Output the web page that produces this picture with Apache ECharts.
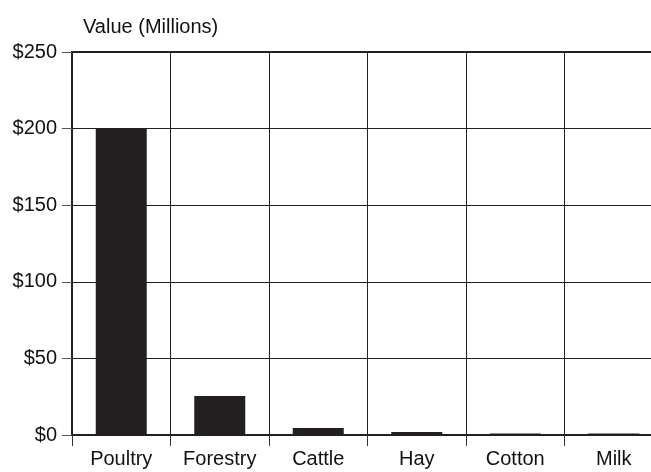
<!DOCTYPE html>
<html>
<head>
<meta charset="utf-8">
<script src="https://cdn.jsdelivr.net/npm/echarts@6/dist/echarts.min.js"></script>
<style>
html,body{margin:0;padding:0;background:#fff;overflow:hidden;}
#chart{width:663px;height:472px;}
</style>
</head>
<body>
<div id="chart"></div>
<script>
const categories = ['Poultry', 'Forestry', 'Cattle', 'Hay', 'Cotton', 'Milk'];
const values = [200, 25.5, 4.5, 2, 1, 1];
const yTicks = { min: 0, max: 250, interval: 50 };
const axisTitle = 'Value (Millions)';

const chart = echarts.init(document.getElementById('chart'), null, { renderer: 'canvas' });
const ink = '#231f20';
const font = '"Liberation Sans", Arial, Helvetica, sans-serif';
chart.setOption({
  animation: false,
  backgroundColor: '#fff',
  textStyle: { fontFamily: font },
  title: {
    text: axisTitle,
    left: 78, top: 12,
    textStyle: { fontFamily: font, fontSize: 20, fontWeight: 'normal', color: '#111' }
  },
  grid: { left: 72, top: 52, right: 0, bottom: 37, containLabel: false,
          show: true, borderWidth: 2, borderColor: ink, backgroundColor: 'transparent' },
  xAxis: {
    type: 'category',
    data: categories,
    boundaryGap: true,
    axisLine: { show: true, lineStyle: { color: ink, width: 2 } },
    axisTick: { show: true, length: 11, lineStyle: { color: '#333', width: 1 } },
    axisLabel: { color: '#111', fontSize: 20, margin: 14, fontFamily: font, interval: 0 },
    splitLine: { show: true, lineStyle: { color: ink, width: 1 } }
  },
  yAxis: {
    type: 'value',
    min: yTicks.min, max: yTicks.max, interval: yTicks.interval,
    axisLine: { show: true, lineStyle: { color: ink, width: 2 } },
    axisTick: { show: true, length: 10, lineStyle: { color: '#555', width: 1 } },
    axisLabel: { color: '#111', fontSize: 20, margin: 15, fontFamily: font, formatter: v => '$' + v },
    splitLine: { show: true, lineStyle: { color: ink, width: 1 } }
  },
  series: [{
    type: 'bar',
    data: values,
    barWidth: 51,
    itemStyle: { color: ink }
  }]
});
</script>
</body>
</html>
